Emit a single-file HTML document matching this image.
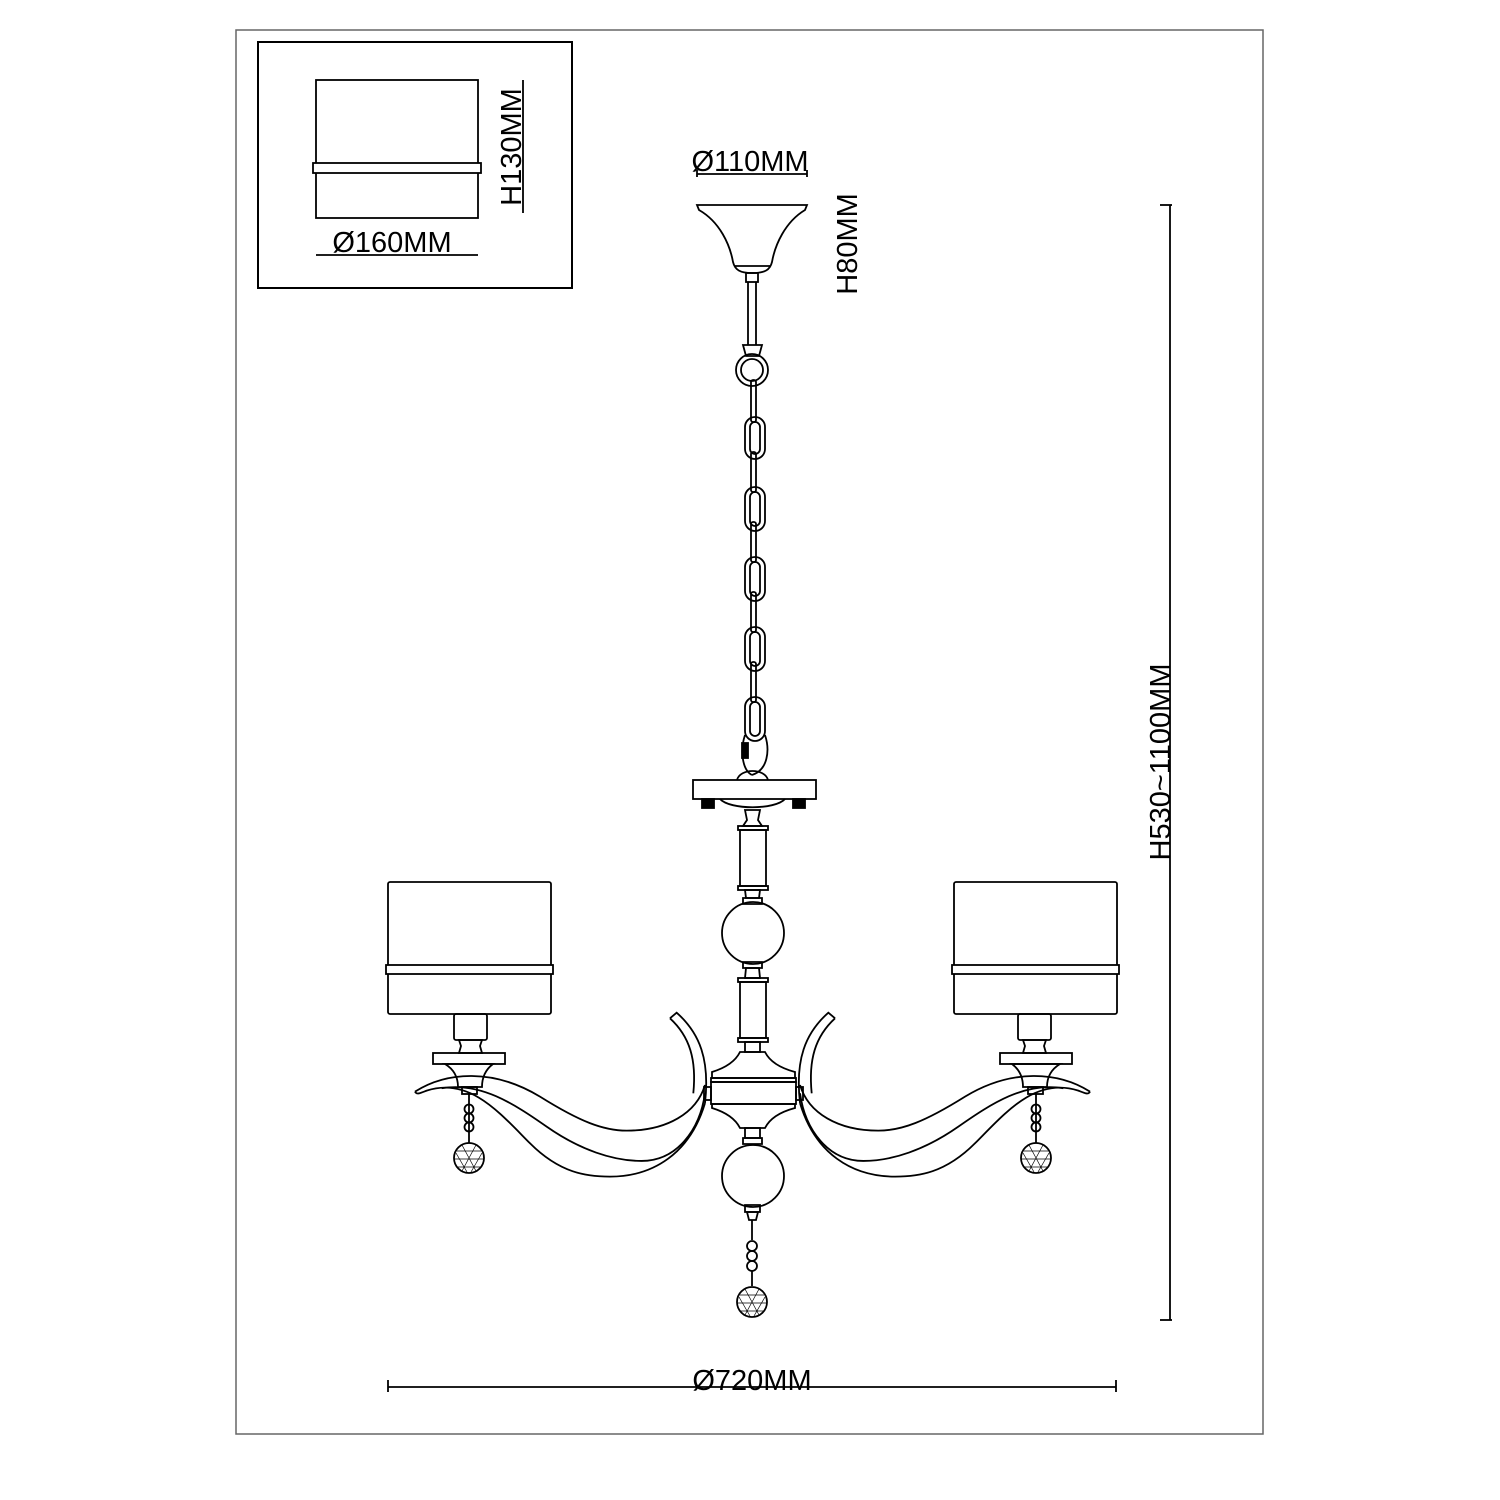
<!DOCTYPE html>
<html><head><meta charset="utf-8"><style>
html,body{margin:0;padding:0;background:#fff;}
svg{display:block;}
text{font-family:"Liberation Sans",Arial,sans-serif;fill:#000;}
</style></head><body>
<svg width="1500" height="1500" viewBox="0 0 1500 1500" xmlns="http://www.w3.org/2000/svg">
<g fill="none" stroke="#000" stroke-width="1.8">
<!-- frame -->
<rect x="236" y="30" width="1027" height="1404" stroke="#666" stroke-width="1.5"/>
<!-- inset -->
<rect x="258" y="42" width="314" height="246" stroke-width="2"/>
<rect x="316" y="80" width="162" height="138"/>
<rect x="313" y="163" width="168" height="10" fill="#fff"/>
<line x1="523" y1="80" x2="523" y2="213"/>
<line x1="316" y1="255" x2="478" y2="255"/>
<!-- canopy -->
<line x1="697" y1="174" x2="807" y2="174"/>
<line x1="697" y1="170" x2="697" y2="177"/><line x1="807" y1="170" x2="807" y2="177"/>
<path d="M697,205 L807,205 L805,210 C785,222 775,245 772,262 C770,270 765,273 752,273 C740,273 735,270 733,262 C730,245 720,222 699,210 Z"/>
<line x1="735" y1="266" x2="770" y2="266"/>
<rect x="746" y="273" width="12" height="9"/>
<line x1="748" y1="282" x2="748" y2="345"/><line x1="756" y1="282" x2="756" y2="345"/>
<path d="M743,345 L762,345 L759,356 L746,356 Z"/>
<circle cx="752" cy="370" r="16"/><circle cx="752" cy="370" r="11"/>
<!-- chain -->
<g>
<rect x="745" y="417" width="20" height="42" rx="10"/><rect x="750" y="422" width="10" height="32" rx="5"/>
<rect x="745" y="487" width="20" height="44" rx="10"/><rect x="750" y="492" width="10" height="34" rx="5"/>
<rect x="745" y="557" width="20" height="44" rx="10"/><rect x="750" y="562" width="10" height="34" rx="5"/>
<rect x="745" y="627" width="20" height="44" rx="10"/><rect x="750" y="632" width="10" height="34" rx="5"/>
<rect x="745" y="697" width="20" height="44" rx="10"/><rect x="750" y="702" width="10" height="34" rx="5"/>
<rect x="751" y="380" width="5" height="42" rx="2"/>
<rect x="751" y="452" width="5" height="40" rx="2"/>
<rect x="751" y="522" width="5" height="40" rx="2"/>
<rect x="751" y="592" width="5" height="40" rx="2"/>
<rect x="751" y="662" width="5" height="40" rx="2"/>
<path d="M745,735 C740,750 742,770 752,775 M765,735 C770,750 768,770 752,775"/>
<rect x="742" y="743" width="6" height="15" fill="#000"/>
<path d="M737,780 C740,768 765,768 768,780"/>
</g>
<!-- plate -->
<rect x="693" y="780" width="123" height="19"/>
<path d="M720,799 C730,810 775,810 785,799"/>
<rect x="702" y="799" width="12" height="9" fill="#000"/><rect x="793" y="799" width="12" height="9" fill="#000"/>
<!-- column -->
<path d="M745,810 L760,810 L758,820 L762,826 L743,826 L747,820 Z"/>
<rect x="738" y="826" width="30" height="4"/>
<rect x="740" y="830" width="26" height="56"/>
<rect x="738" y="886" width="30" height="4"/>
<path d="M745,890 L760,890 L759,898 L746,898 Z"/>
<path d="M743,898 L762,898 L762,904 L743,904 Z"/>
<circle cx="753" cy="933" r="31"/>
<path d="M743,962 L762,962 L762,968 L743,968 Z"/>
<path d="M746,968 L759,968 L760,978 L745,978 Z"/>
<rect x="738" y="978" width="30" height="4"/>
<rect x="740" y="982" width="26" height="56"/>
<rect x="738" y="1038" width="30" height="4"/>
<path d="M745,1042 L760,1042 L760,1052 L745,1052 Z"/>
<path d="M740,1052 L765,1052 C770,1062 780,1068 795,1072 L795,1078 L712,1078 L712,1072 C725,1068 735,1062 740,1052 Z"/>
<rect x="711" y="1078" width="85" height="4"/>
<rect x="711" y="1082" width="85" height="22"/>
<rect x="704" y="1087" width="7" height="13"/><rect x="796" y="1087" width="7" height="13"/>
<path d="M712,1104 L795,1104 L795,1108 C780,1112 770,1118 765,1128 L740,1128 C735,1118 725,1112 712,1108 Z"/>
<path d="M745,1128 L760,1128 L760,1138 L745,1138 Z"/>
<path d="M743,1138 L762,1138 L762,1144 L743,1144 Z"/>
<circle cx="753" cy="1176" r="31"/>
<path d="M745,1205 L760,1205 L760,1212 L745,1212 Z"/>
<path d="M747,1212 L758,1212 L756,1220 L749,1220 Z"/>
<line x1="752" y1="1220" x2="752" y2="1240"/>
<circle cx="752" cy="1246" r="5"/><circle cx="752" cy="1256" r="5"/><circle cx="752" cy="1266" r="5"/>
<line x1="752" y1="1271" x2="752" y2="1286"/>
<circle cx="752" cy="1302" r="15"/>
<path d="M740,1295 L764,1295 M738,1303 L766,1303 M740,1311 L764,1311 M745,1289 L759,1315 M759,1289 L745,1315 M739,1297 L750,1316 M765,1297 L754,1316" stroke-width="0.7"/>
<!-- arms (left, and mirrored right) -->
<g id="arm">
<rect x="388" y="882" width="163" height="132" rx="2"/>
<rect x="386" y="965" width="167" height="9" fill="#fff"/>
<rect x="454" y="1014" width="33" height="26" rx="2"/>
<path d="M459,1040 L482,1040 L480,1046 L482,1053 L459,1053 L461,1046 Z"/>
<rect x="433" y="1053" width="72" height="11"/>
<path d="M445,1064 L493,1064 C485,1070 482,1078 482,1087 L458,1087 C458,1078 455,1070 445,1064 Z"/>
<rect x="462" y="1087" width="15" height="7"/>
<g transform="translate(380,760) scale(0.3333)" stroke-width="5.4">
<path d="M105,995 C200,935 340,925 480,1010 C600,1085 670,1112 740,1112 C860,1112 950,1060 975,975"/>
<path d="M185,985 C300,965 400,1030 500,1100 C600,1170 700,1203 785,1203 C890,1203 960,1110 975,1000"/>
<path d="M105,995 C110,1005 120,1000 140,992 C270,950 360,1060 450,1150 C540,1240 620,1250 690,1250 C820,1250 930,1180 975,1030"/>
<path d="M870,775 L890,758 C960,820 990,900 975,1030"/>
<path d="M870,775 C930,830 950,900 940,1000"/>
</g>
<line x1="469" y1="1093" x2="469" y2="1132"/>
<circle cx="469" cy="1109" r="4.5"/><circle cx="469" cy="1118" r="4.5"/><circle cx="469" cy="1127" r="4.5"/>
<line x1="469" y1="1132" x2="469" y2="1143"/>
<circle cx="469" cy="1158" r="15"/>
<path d="M457,1151 L481,1151 M455,1159 L483,1159 M457,1167 L481,1167 M462,1145 L476,1171 M476,1145 L462,1171 M456,1153 L467,1172 M482,1153 L471,1172" stroke-width="0.7"/>
</g>
<use href="#arm" transform="translate(1505,0) scale(-1,1)"/>
<!-- big dims -->
<line x1="1170" y1="205" x2="1170" y2="1320"/>
<line x1="1160" y1="205" x2="1172" y2="205"/><line x1="1160" y1="1320" x2="1172" y2="1320"/>
<line x1="388" y1="1387" x2="1116" y2="1387"/>
<line x1="388" y1="1380" x2="388" y2="1392"/><line x1="1116" y1="1380" x2="1116" y2="1392"/>
</g>
<text x="392" y="252" font-size="29" text-anchor="middle">Ø160MM</text>
<text transform="translate(521,147) rotate(-90)" font-size="29" text-anchor="middle">H130MM</text>
<text x="750" y="171" font-size="29" text-anchor="middle">Ø110MM</text>
<text transform="translate(857,244) rotate(-90)" font-size="29" text-anchor="middle">H80MM</text>
<text transform="translate(1170,762) rotate(-90)" font-size="29" text-anchor="middle">H530~1100MM</text>
<text x="752" y="1390" font-size="29" text-anchor="middle">Ø720MM</text>
</svg>
</body></html>
